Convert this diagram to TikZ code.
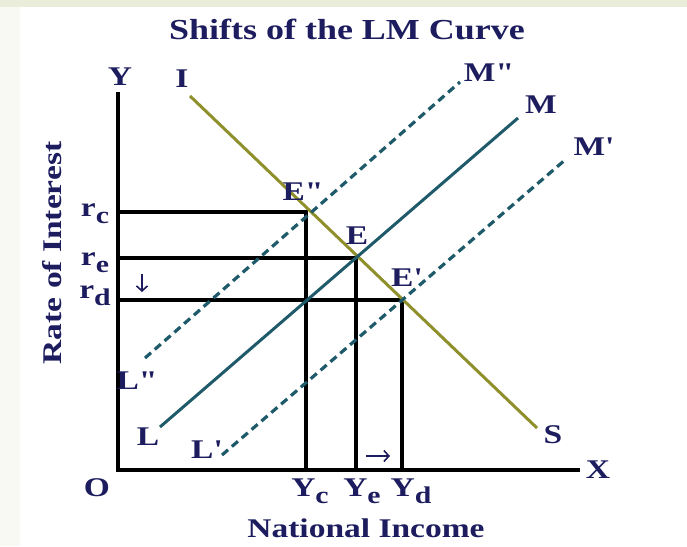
\documentclass[tikz,border=0pt]{standalone}
\usepackage{fontspec}
\setmainfont{Liberation Serif}[FakeStretch=1.24,Ligatures=TeXOff]
\usetikzlibrary{arrows.meta}
\newcommand{\sq}{\symbol{39}}
\newcommand{\dq}{\symbol{34}}
\newcommand{\sbs}[1]{\raisebox{-0.25em}{\fontsize{24}{26}\selectfont #1}}
\begin{document}
\begin{tikzpicture}[x=1pt,y=-1pt,
  lbl/.style={text=navy,font=\bfseries\fontsize{27}{29}\selectfont,inner sep=0pt},
  axisline/.style={line width=4pt,black},
  guide/.style={line width=3.4pt,black},
  lmline/.style={line width=3pt,teal1},
  lmdash/.style={line width=3.2pt,teal1,dash pattern=on 8pt off 5pt},
  isline/.style={line width=3pt,olive1}]
\definecolor{navy}{HTML}{1C1C5E}
\definecolor{teal1}{HTML}{1F5A6A}
\definecolor{olive1}{HTML}{8F8F2C}
\useasboundingbox (0,0) rectangle (687,546);
\fill[color={rgb,255:red,249;green,249;blue,244}] (0,0) rectangle (687,546);
\fill[color={rgb,255:red,233;green,237;blue,218}] (0,0) rectangle (687,7);
\fill[white] (20,7) rectangle (687,546);
% title
\node[lbl,font=\bfseries\fontsize{29}{31}\selectfont] (title) at (347,29) {Shifts of the LM Curve};
% axes
\coordinate (O) at (118,470);
\coordinate (Ytop) at (118,92);
\coordinate (Xend) at (580,470);
\draw[axisline] (Ytop) -- (O) -- (Xend);
\node[lbl] (Ylab) at (120,77) {Y};
\node[lbl] (Xlab) at (598,470) {X};
\node[lbl] (Olab) at (97,488) {O};
\node[lbl,rotate=90] (rate) at (52,253) {Rate of Interest};
\node[lbl] (natinc) at (366,528) {National Income};
% equilibrium points
\coordinate (Epp) at (306,212);
\coordinate (E) at (356,258);
\coordinate (Ep) at (402,300);
\coordinate (rc) at (118,212);
\coordinate (re) at (118,258);
\coordinate (rd) at (118,300);
\coordinate (Yc) at (306,470);
\coordinate (Ye) at (356,470);
\coordinate (Yd) at (402,470);
\draw[guide] (rc) -- (Epp) -- (Yc);
\draw[guide] (re) -- (E) -- (Ye);
\draw[guide] (rd) -- (Ep) -- (Yd);
% IS curve
\coordinate (Iend) at (190,96);
\coordinate (Send) at (537,428);
\draw[isline] (Iend) -- (Send);
\node[lbl] (Ilab) at (182,79) {I};
\node[lbl] (Slab) at (553,435) {S};
% LM curves
\coordinate (L) at (160,427);
\coordinate (M) at (518,118);
\draw[lmline] (L) -- (M);
\coordinate (Lpp) at (145,358);
\coordinate (Mpp) at (460,82);
\draw[lmdash] (Lpp) -- (Mpp);
\coordinate (Lp) at (222,455);
\coordinate (Mp) at (565,160);
\draw[lmdash] (Lp) -- (Mp);
\node[lbl] (Llab) at (148,437) {L};
\node[lbl] (Mlab) at (541,105) {M};
\node[lbl] (Lpplab) at (137,381) {L\dq};
\node[lbl] (Mpplab) at (489,73) {M\dq};
\node[lbl] (Lplab) at (207,450) {L\sq};
\node[lbl] (Mplab) at (594,147) {M\sq};
% point labels
\node[lbl] (Epplab) at (303,192) {E\dq};
\node[lbl] (Elab) at (357,236) {E};
\node[lbl] (Eplab) at (407,278) {E\sq};
% rate labels
\node[lbl] (rclab) at (95,214) {r\sbs{c}};
\node[lbl] (relab) at (95,263) {r\sbs{e}};
\node[lbl] (rdlab) at (95,296) {r\sbs{d}};
% income labels
\node[lbl] (Yclab) at (310,491) {Y\sbs{c}};
\node[lbl] (Yelab) at (362,491) {Y\sbs{e}};
\node[lbl] (Ydlab) at (411,491) {Y\sbs{d}};
% arrows
\coordinate (da1) at (142,274);
\coordinate (da2) at (142,292);
\draw[navy,line width=1.6pt,-{Straight Barb[length=5pt,width=11pt]}] (da1) -- (da2);
\coordinate (ra1) at (366,456);
\coordinate (ra2) at (390,456);
\draw[navy,line width=1.6pt,-{Straight Barb[length=5pt,width=11pt]}] (ra1) -- (ra2);
\end{tikzpicture}
\end{document}
